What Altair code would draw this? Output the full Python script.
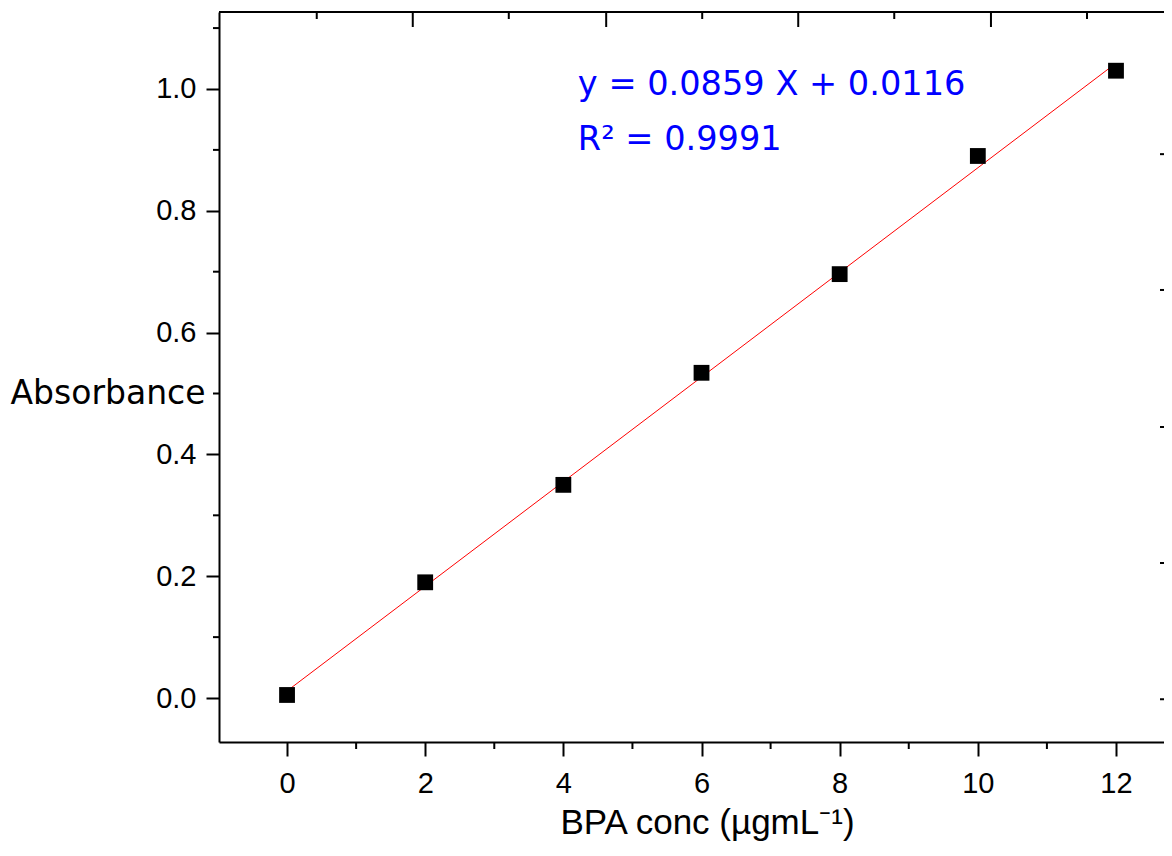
import altair as alt
import pandas as pd

# ---- data ----
conc = [0, 2, 4, 6, 8, 10, 12]
absorb = [0.005, 0.190, 0.350, 0.534, 0.696, 0.890, 1.030]
fit_x = [0, 12]
fit_y = [0.0116, 1.0424]
x_major = [0, 2, 4, 6, 8, 10, 12]
x_minor = [1, 3, 5, 7, 9, 11]
y_major = [0.0, 0.2, 0.4, 0.6, 0.8, 1.0]
y_minor = [0.1, 0.3, 0.5, 0.7, 0.9, 1.1]
top_major = [1.82, 4.62, 7.40, 10.19]
top_minor = [0.43, 3.21, 6.01, 8.79, 11.58]
right_major = [-0.002, 0.2217, 0.445, 0.670, 0.893]
eq_lines = ["y = 0.0859 X + 0.0116", "R² = 0.9991"]
eq_x = [4.21, 4.21]
eq_y = [0.990, 0.900]
x_title = "BPA conc (µgmL⁻¹)"
y_title = "Absorbance"
x_domain = [-0.985, 12.695]
y_domain = [-0.0722, 1.1264]

W, H = 945, 730

pts = pd.DataFrame({"conc": conc, "abs": absorb})
fit = pd.DataFrame({"conc": fit_x, "abs": fit_y})
eq = pd.DataFrame({"conc": eq_x, "abs": eq_y, "label": eq_lines})

xscale = alt.Scale(domain=x_domain, nice=False, zero=False)
yscale = alt.Scale(domain=y_domain, nice=False, zero=False)

x_axis = alt.Axis(
    values=x_major, format="d", orient="bottom", grid=False,
    labelFont="Liberation Sans", labelFontSize=29, labelColor="black",
    labelPadding=13, labelFlush=False, labelOverlap=False,
    tickSize=14, tickWidth=2, tickColor="black",
    domainColor="black", domainWidth=2,
    title=x_title, titleFont="Liberation Sans", titleFontSize=35,
    titleFontWeight="normal", titleColor="black",
    titleX=488, titleY=91, titleAlign="center", titleBaseline="alphabetic",
)
y_axis = alt.Axis(
    values=y_major, format=".1f", orient="left", grid=False,
    labelFont="Liberation Sans", labelFontSize=29, labelColor="black",
    labelPadding=10, labelFlush=False, labelOverlap=False,
    tickSize=13, tickWidth=2, tickColor="black",
    domainColor="black", domainWidth=2,
    title=y_title, titleFont="DejaVu Sans", titleFontSize=33,
    titleFontWeight="normal", titleColor="black", titleAngle=0,
    titleX=-14, titleY=381, titleAlign="right", titleBaseline="middle",
)

X = lambda f: alt.X(f, scale=xscale, axis=x_axis)
Y = lambda f: alt.Y(f, scale=yscale, axis=y_axis)

line = alt.Chart(fit).mark_line(color="#FF0000", strokeWidth=1).encode(
    x=X("conc:Q"), y=Y("abs:Q"),
)
points = alt.Chart(pts).mark_point(
    shape="square", filled=True, size=250, color="black", opacity=1
).encode(x=X("conc:Q"), y=Y("abs:Q"))
text = alt.Chart(eq).mark_text(
    align="left", baseline="alphabetic", font="DejaVu Sans",
    fontSize=33.6, color="#0000FF"
).encode(x=X("conc:Q"), y=Y("abs:Q"), text="label:N")


def xticks(vals, y0, y1):
    return alt.Chart(pd.DataFrame({"conc": vals})).mark_rule(
        color="black", strokeWidth=2
    ).encode(x=X("conc:Q"), y=alt.value(y0), y2=alt.value(y1))


def yticks(vals, x0, x1):
    return alt.Chart(pd.DataFrame({"abs": vals})).mark_rule(
        color="black", strokeWidth=2
    ).encode(y=Y("abs:Q"), x=alt.value(x0), x2=alt.value(x1))


bottom_minor = xticks(x_minor, H, H + 7)
top_major_t = xticks(top_major, 0, 15)
top_minor_t = xticks(top_minor, 0, 7)
left_minor = yticks(y_minor, -6, 0)
right_t = yticks(right_major, W - 4, W)
top_frame = alt.Chart(pd.DataFrame({"v": [0]})).mark_rule(
    color="black", strokeWidth=2
).encode(x=alt.value(0), x2=alt.value(W), y=alt.value(0))

chart = alt.layer(
    line, points, text,
    top_frame, top_major_t, top_minor_t, bottom_minor, left_minor, right_t,
).properties(
    width=W, height=H,
    autosize=alt.AutoSizeParams(type="none"),
    padding={"left": 211, "top": 4, "right": 0, "bottom": 102},
    background="white",
).configure_view(strokeWidth=0)

chart.save("out.html", embed_options={"renderer": "svg", "actions": False})
